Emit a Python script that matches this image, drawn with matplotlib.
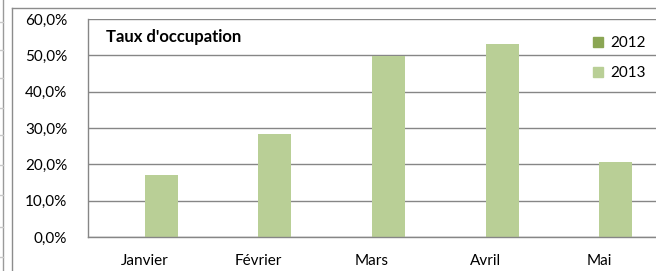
# Taux d'occupation chart (Excel style) redone with matplotlib

import numpy as np
import matplotlib.pyplot as plt
from matplotlib.lines import Line2D
from matplotlib.patches import Patch

months = ['Janvier', 'Février', 'Mars', 'Avril', 'Mai']
series_names = ['2012', '2013']
occ_2012 = [0, 0, 0, 0, 0]            # no data shown for 2012
occ_2013 = [17.1, 28.4, 49.8, 53.0, 20.7]
y_ticks = [0, 10, 20, 30, 40, 50, 60]
y_labels = ['0,0%', '10,0%', '20,0%', '30,0%', '40,0%', '50,0%', '60,0%']

col_2012 = '#8BA654'
col_2013 = '#B9CF96'
grid_col = '#868686'

plt.rcParams['font.family'] = ['Lato', 'DejaVu Sans']

W, H = 656, 271
fig = plt.figure(figsize=(W / 100, H / 100), dpi=100)

# spreadsheet bits visible behind the chart
fig.add_artist(Line2D([3 / W, 3 / W], [0, 1], color='#9a9a9a', lw=1))
for yy in [22, 50, 78, 108, 135, 165, 195, 227, 257]:
    fig.add_artist(Line2D([0, 3 / W], [1 - yy / H, 1 - yy / H], color='#c8c8c8', lw=1))
# chart border
fig.add_artist(Line2D([12 / W, 12 / W], [0, 1 - 7.5 / H], color='#8c8c8c', lw=1))
fig.add_artist(Line2D([12 / W, 1], [1 - 7.5 / H, 1 - 7.5 / H], color='#8c8c8c', lw=1))

left, right, top, bottom = 88, 656, 19, 237
ax = fig.add_axes([left / W, 1 - bottom / H, (right - left) / W, (bottom - top) / H])

x = np.arange(len(months))
bw = 0.29
ax.bar(x - bw / 2, occ_2012, bw, color=col_2012)
ax.bar(x + bw / 2, occ_2013, bw, color=col_2013)

ax.set_xlim(-0.5, len(months) - 0.5)
ax.set_ylim(0, 60)
ax.set_yticks(y_ticks)
ax.set_yticklabels(y_labels)
ax.set_xticks(x)
ax.set_xticklabels(months)
ax.tick_params(axis='both', length=0, labelsize=11, colors='black')
ax.tick_params(axis='y', pad=15)
ax.tick_params(axis='x', pad=12)

ax.yaxis.grid(True, color=grid_col, lw=1)
ax.set_axisbelow(True)
for s in ['top', 'right']:
    ax.spines[s].set_visible(False)
for s in ['left', 'bottom']:
    ax.spines[s].set_color(grid_col)
    ax.spines[s].set_linewidth(1)

ax.text(0.032, 0.917, "Taux d'occupation", transform=ax.transAxes,
        fontsize=12, fontweight='bold', va='center')

handles = [Patch(color=col_2012), Patch(color=col_2013)]
ax.legend(handles, series_names, loc='upper right', bbox_to_anchor=(1.0, 0.97),
          frameon=False, fontsize=11, handlelength=0.65, handleheight=0.65,
          handletextpad=0.45, labelspacing=1.05, borderaxespad=0.3)

fig.savefig('out.png', dpi=100)
